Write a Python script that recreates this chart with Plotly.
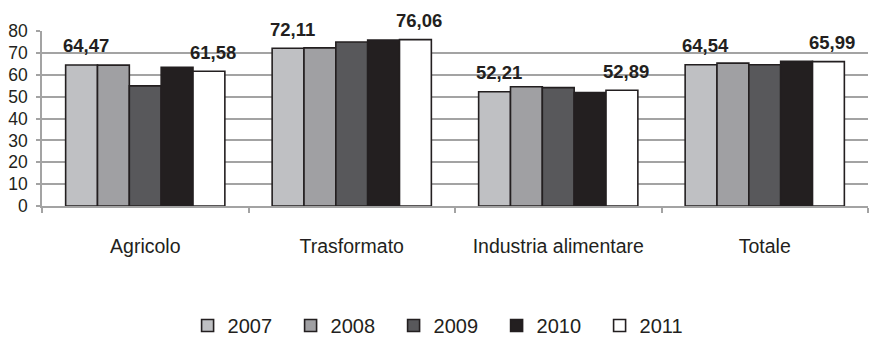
import plotly.graph_objects as go

# Categories and yearly values
categories = ["Agricolo", "Trasformato", "Industria alimentare", "Totale"]
years = ["2007", "2008", "2009", "2010", "2011"]
v2007 = [64.47, 72.11, 52.21, 64.54]
v2008 = [64.4, 72.3, 54.5, 65.3]
v2009 = [54.9, 75.0, 54.1, 64.6]
v2010 = [63.4, 75.9, 51.9, 66.1]
v2011 = [61.58, 76.06, 52.89, 65.99]
series = [v2007, v2008, v2009, v2010, v2011]
colors = ["#bfc0c3", "#a0a0a3", "#58585b", "#231f20", "#ffffff"]
labelled_years = ["2007", "2011"]

ink = "#231f20"
grid = "#a3a3a3"
font_family = "Liberation Sans, Arial, sans-serif"
bargap = 0.229

fig = go.Figure()
for year, vals, col in zip(years, series, colors):
    fig.add_trace(go.Bar(
        name=year, x=categories, y=vals,
        marker=dict(color=col, line=dict(color=ink, width=1.6)),
    ))

# Value labels above the first and last year of every group
n = len(years)
bar_w = (1 - bargap) / n
for year, vals in zip(years, series):
    if year not in labelled_years:
        continue
    k = years.index(year)
    offset = (k - (n - 1) / 2) * bar_w
    for i, v in enumerate(vals):
        fig.add_annotation(
            x=i + offset, y=v, xref="x", yref="y",
            text=f"{v:.2f}".replace(".", ","),
            showarrow=False, yanchor="middle", xshift=4, yshift=19,
            font=dict(family=font_family, size=18.5, color=ink, weight="bold"),
        )

fig.update_layout(
    width=870, height=347,
    margin=dict(l=42, r=2, t=31, b=133),
    paper_bgcolor="white", plot_bgcolor="white",
    barmode="group", bargap=bargap, bargroupgap=0,
    font=dict(family=font_family, color=ink),
    showlegend=True,
    legend=dict(
        orientation="h", x=0.488, xanchor="center", y=-0.683, yanchor="middle",
        font=dict(size=20, color=ink), entrywidth=58, itemwidth=30,
        traceorder="normal",
    ),
)
fig.update_xaxes(
    type="category", range=[-0.5, 3.5],
    showline=True, linecolor=grid, linewidth=1.5,
    ticks="outside", tickson="boundaries", ticklen=5, tickcolor=grid, tickwidth=1.5,
    tickfont=dict(size=19.5, color=ink), ticklabelstandoff=22,
    showgrid=False,
)
fig.update_yaxes(
    range=[0, 80], dtick=10,
    showline=True, linecolor=grid, linewidth=1.5,
    ticks="outside", ticklen=4, tickcolor=grid, tickwidth=1.5,
    showgrid=True, gridcolor=grid, gridwidth=1.5,
    tickfont=dict(size=17.5, color=ink), ticklabelstandoff=5,
    zeroline=False,
)

fig.write_html("out.html")
